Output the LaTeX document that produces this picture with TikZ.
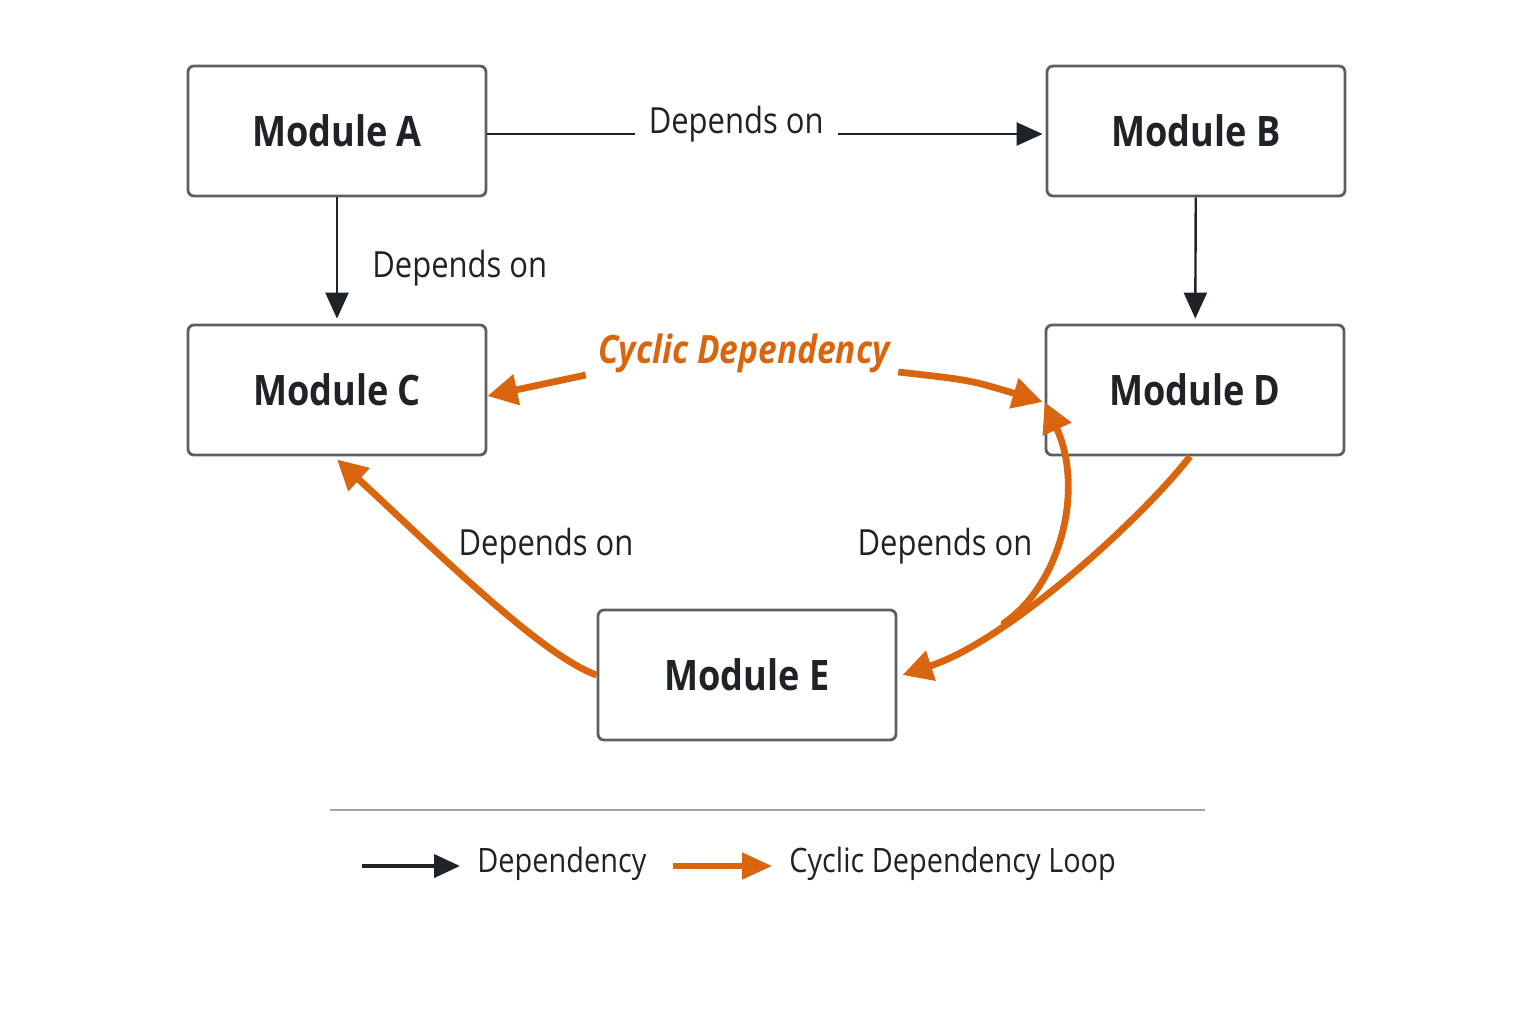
\documentclass[tikz,border=0pt]{standalone}
\usepackage{fontspec}
\setmainfont{Open Sans}[FakeStretch=0.86]
\usetikzlibrary{arrows.meta,positioning}

\definecolor{ink}{HTML}{1F2328}
\definecolor{edge}{HTML}{5B5F64}
\definecolor{loop}{HTML}{D9650F}
\definecolor{rule}{HTML}{A6A6A6}

\tikzstyle{module} = [draw=edge,line width=1.4pt,rounded corners=3pt,minimum width=149pt,minimum height=65pt,text=ink,font=\fontsize{21}{24}\selectfont\bfseries]
\tikzstyle{dep} = [draw=ink,line width=1.2pt,-{Triangle[length=13pt,width=11.5pt]}]
\tikzstyle{cyc} = [draw=loop,line width=3.4pt,-{Triangle[length=15pt,width=15pt]}]
\tikzstyle{lbl} = [text=ink,inner sep=0pt,font=\fontsize{18}{21}\selectfont]
\tikzstyle{legtext} = [text=ink,inner sep=0pt,font=\fontsize{16.8}{20}\selectfont]

\begin{document}
\begin{tikzpicture}[x=0.5pt,y=-0.5pt]
	\useasboundingbox (0,0) rectangle (1536,1024);
	\node (modA) [module] at (337,131) {Module A};
	\node (modB) [module] at (1196,131) {Module B};
	\node (modC) [module] at (337,390) {Module C};
	\node (modD) [module] at (1195,390) {Module D};
	\node (modE) [module] at (747,675) {Module E};
	% plain dependencies
	\draw [dep] ([yshift=-1.5pt]modA.east) -- node [pos=0.448,lbl,fill=white,inner xsep=7pt,yshift=5pt] {Depends on} ([shift={(-3,3)}]modB.west);
	\draw [dep,shorten >=2.5pt] (modA) -- (modC);
	\draw [dep,shorten >=2.5pt] (modB) -- (modD);
	\node (depAC) [lbl,anchor=west] at (372,268) {Depends on};
	% the loop
	\node (cyclbl) [inner sep=0pt,text=loop,font=\fontsize{19.5}{22}\selectfont\bfseries\itshape] at (744,353) {Cyclic Dependency};
	\draw [cyc] ([shift={(-12,22)}]cyclbl.west) -- ([yshift=-3pt]modC.east);
	\draw [cyc] ([shift={(8,19)}]cyclbl.east) .. controls (970,380) .. ([shift={(-2,12)}]modD.west);
	\draw [cyc] (modE.west) .. controls (540,655) and (430,545) .. ([yshift=-1.5pt]modC.south);
	\draw [cyc] ([xshift=-2.5pt]modD.south) .. controls (1145,515) and (1010,640) .. ([xshift=2.5pt]modE.east);
	\coordinate (fork) at (1004,623);
	\draw [cyc,line cap=round] (fork) .. controls (1060,585) and (1085,490) .. ([shift={(0,12)}]modD.west);
	\node (depEC) [lbl] at (546,546) {Depends on};
	\node (depDE) [lbl] at (945,546) {Depends on};
	% legend
	\draw [rule,line width=0.6pt] (330,810) -- (1205,810);
	\node (legDep) [legtext,anchor=west] at (477,864) {Dependency};
	\node (legCyc) [legtext,anchor=west] at (789,864) {Cyclic Dependency Loop};
	\coordinate (legDepTail) at (362,866);
	\coordinate (legCycTail) at (673,866);
	\draw [dep,line width=2pt] (legDepTail) -- ([shift={(-17,2)}]legDep.west);
	\draw [cyc,line width=2.6pt,-{Triangle[length=15pt,width=13pt]}] (legCycTail) -- ([shift={(-17,2)}]legCyc.west);
\end{tikzpicture}
\end{document}
